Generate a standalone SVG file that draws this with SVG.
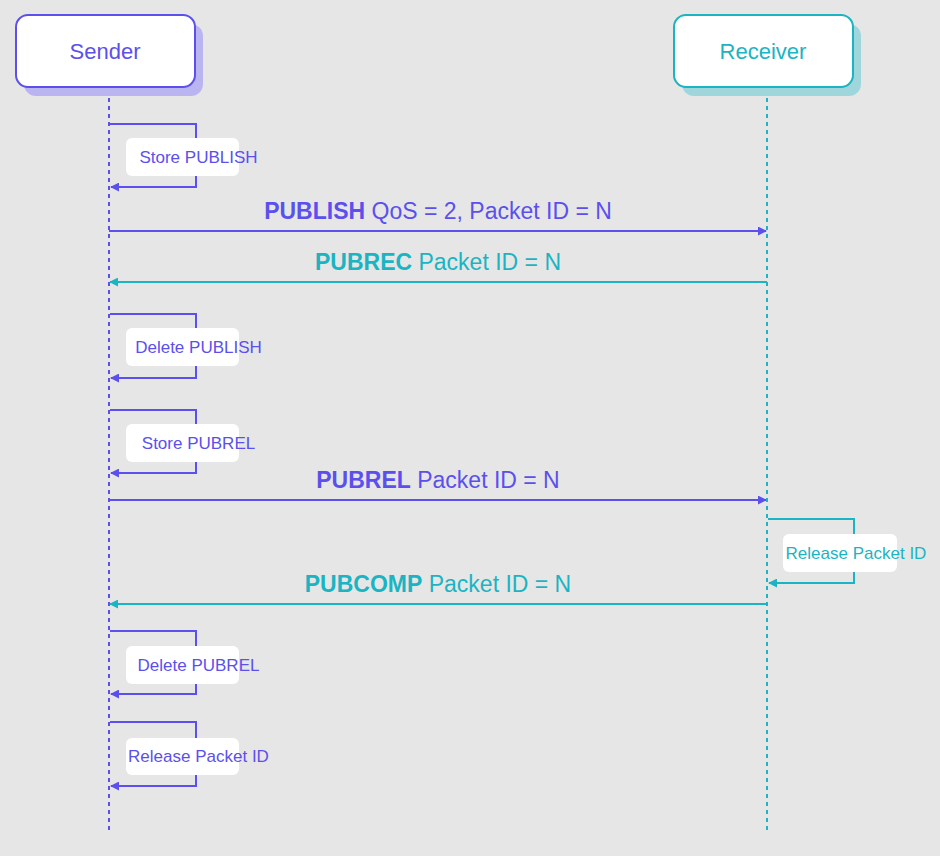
<svg xmlns="http://www.w3.org/2000/svg" width="940" height="856" viewBox="0 0 940 856">
<style>
text{font-family:"Liberation Sans",Arial,sans-serif}
.p{fill:#5b50ee}.t{fill:#1bb4c2}
.lp{stroke:#5b50ee;stroke-width:2;fill:none}
.lt{stroke:#1bb4c2;stroke-width:2;fill:none}
.lbl{font-size:17px;text-anchor:middle}
.msg{font-size:23px;text-anchor:middle}
.b{font-weight:bold}
.box{fill:#fff;rx:6px}
</style>
<defs>
<marker id="ap" viewBox="0 0 10 10" refX="9" refY="5" markerWidth="9" markerHeight="9" markerUnits="userSpaceOnUse" orient="auto"><path d="M0,0L10,5L0,10z" fill="#5b50ee"/></marker>
<marker id="at" viewBox="0 0 10 10" refX="9" refY="5" markerWidth="9" markerHeight="9" markerUnits="userSpaceOnUse" orient="auto"><path d="M0,0L10,5L0,10z" fill="#1bb4c2"/></marker>
</defs>
<rect width="940" height="856" fill="#e6e6e6"/>
<g id="lifelines">
<line x1="109" y1="90" x2="109" y2="832" stroke="#5b50ee" stroke-width="2" stroke-dasharray="4,4"/>
<line x1="767" y1="90" x2="767" y2="832" stroke="#1bb4c2" stroke-width="2" stroke-dasharray="4,4"/>
</g>
<g id="sender">
<rect x="24" y="24" width="179" height="72" rx="12" fill="#bab5f1"/>
<rect x="16" y="15" width="179" height="72" rx="12" fill="#fff" stroke="#5b50ee" stroke-width="2"/>
<text x="105" y="59" font-size="22" text-anchor="middle" class="p">Sender</text>
</g>
<g id="receiver">
<rect x="682" y="24" width="179" height="72" rx="12" fill="#9fd6dc"/>
<rect x="674" y="15" width="179" height="72" rx="12" fill="#fff" stroke="#1bb4c2" stroke-width="2"/>
<text x="763" y="59" font-size="22" text-anchor="middle" class="t">Receiver</text>
</g>
<g id="connectors">
<path class="lp" d="M110,124H196V187H111" marker-end="url(#ap)"/>
<line class="lp" x1="109" y1="231" x2="766" y2="231" marker-end="url(#ap)"/>
<line class="lt" x1="767" y1="282" x2="110" y2="282" marker-end="url(#at)"/>
<path class="lp" d="M110,314H196V378H111" marker-end="url(#ap)"/>
<path class="lp" d="M110,410H196V473H111" marker-end="url(#ap)"/>
<line class="lp" x1="109" y1="500" x2="766" y2="500" marker-end="url(#ap)"/>
<path class="lt" d="M768,519H854V583H769" marker-end="url(#at)"/>
<line class="lt" x1="767" y1="604" x2="110" y2="604" marker-end="url(#at)"/>
<path class="lp" d="M110,631H196V694H111" marker-end="url(#ap)"/>
<path class="lp" d="M110,722H196V786H111" marker-end="url(#ap)"/>
</g>
<g id="msg-publish"><text x="438" y="219" class="msg p"><tspan class="b">PUBLISH</tspan> QoS = 2, Packet ID = N</text></g>
<g id="msg-pubrec"><text x="438" y="270" class="msg t"><tspan class="b">PUBREC</tspan> Packet ID = N</text></g>
<g id="msg-pubrel"><text x="438" y="488" class="msg p"><tspan class="b">PUBREL</tspan> Packet ID = N</text></g>
<g id="msg-pubcomp"><text x="438" y="592" class="msg t"><tspan class="b">PUBCOMP</tspan> Packet ID = N</text></g>
<g id="store-publish"><rect class="box" x="126" y="138" width="113" height="38"/><text x="198.5" y="163" class="lbl p">Store PUBLISH</text></g>
<g id="delete-publish"><rect class="box" x="126" y="328" width="113" height="38"/><text x="198.5" y="353" class="lbl p">Delete PUBLISH</text></g>
<g id="store-pubrel"><rect class="box" x="126" y="424" width="113" height="38"/><text x="198.5" y="449" class="lbl p">Store PUBREL</text></g>
<g id="receiver-release"><rect class="box" x="783" y="534" width="114" height="38"/><text x="856" y="559" class="lbl t">Release Packet ID</text></g>
<g id="delete-pubrel"><rect class="box" x="126" y="646" width="113" height="38"/><text x="198.5" y="671" class="lbl p">Delete PUBREL</text></g>
<g id="sender-release"><rect class="box" x="126" y="738" width="113" height="37"/><text x="198.5" y="762" class="lbl p">Release Packet ID</text></g>
</svg>
